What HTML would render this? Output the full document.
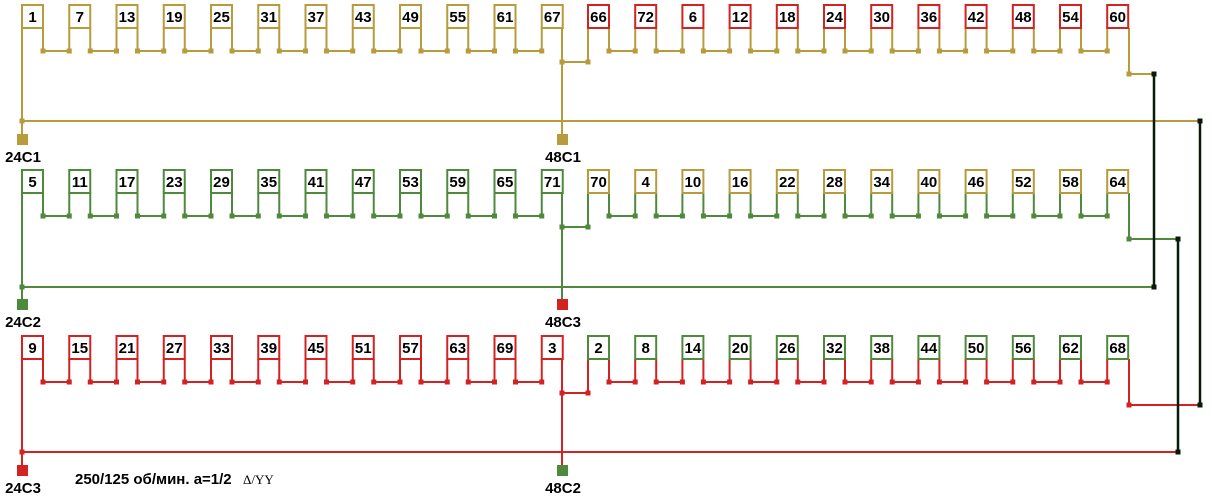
<!DOCTYPE html>
<html><head><meta charset="utf-8"><style>
html,body{margin:0;padding:0;background:#fff;width:1212px;height:502px;overflow:hidden}
svg{display:block}
text{font-family:"Liberation Sans",sans-serif;font-weight:bold;font-size:15px;fill:#000}
</style></head><body>
<svg id="s" width="1212" height="502" viewBox="0 0 1212 502" xmlns="http://www.w3.org/2000/svg">
<g id="g"></g>
<g text-anchor="middle">
<text x="32.5" y="22">1</text><text x="79.75" y="22">7</text><text x="127" y="22">13</text><text x="174.25" y="22">19</text><text x="221.5" y="22">25</text><text x="268.75" y="22">31</text><text x="316" y="22">37</text><text x="363.25" y="22">43</text><text x="410.5" y="22">49</text><text x="457.75" y="22">55</text><text x="505" y="22">61</text><text x="552.25" y="22">67</text>
<text x="598.5" y="22">66</text><text x="645.7" y="22">72</text><text x="692.9" y="22">6</text><text x="740.1" y="22">12</text><text x="787.3" y="22">18</text><text x="834.5" y="22">24</text><text x="881.7" y="22">30</text><text x="928.9" y="22">36</text><text x="976.1" y="22">42</text><text x="1023.3" y="22">48</text><text x="1070.5" y="22">54</text><text x="1117.7" y="22">60</text>
<text x="32.5" y="187">5</text><text x="79.75" y="187">11</text><text x="127" y="187">17</text><text x="174.25" y="187">23</text><text x="221.5" y="187">29</text><text x="268.75" y="187">35</text><text x="316" y="187">41</text><text x="363.25" y="187">47</text><text x="410.5" y="187">53</text><text x="457.75" y="187">59</text><text x="505" y="187">65</text><text x="552.25" y="187">71</text>
<text x="598.5" y="187">70</text><text x="645.7" y="187">4</text><text x="692.9" y="187">10</text><text x="740.1" y="187">16</text><text x="787.3" y="187">22</text><text x="834.5" y="187">28</text><text x="881.7" y="187">34</text><text x="928.9" y="187">40</text><text x="976.1" y="187">46</text><text x="1023.3" y="187">52</text><text x="1070.5" y="187">58</text><text x="1117.7" y="187">64</text>
<text x="32.5" y="353">9</text><text x="79.75" y="353">15</text><text x="127" y="353">21</text><text x="174.25" y="353">27</text><text x="221.5" y="353">33</text><text x="268.75" y="353">39</text><text x="316" y="353">45</text><text x="363.25" y="353">51</text><text x="410.5" y="353">57</text><text x="457.75" y="353">63</text><text x="505" y="353">69</text><text x="552.25" y="353">3</text>
<text x="598.5" y="353">2</text><text x="645.7" y="353">8</text><text x="692.9" y="353">14</text><text x="740.1" y="353">20</text><text x="787.3" y="353">26</text><text x="834.5" y="353">32</text><text x="881.7" y="353">38</text><text x="928.9" y="353">44</text><text x="976.1" y="353">50</text><text x="1023.3" y="353">56</text><text x="1070.5" y="353">62</text><text x="1117.7" y="353">68</text>
<text x="23" y="162">24C1</text><text x="563" y="162">48C1</text>
<text x="23" y="327">24C2</text><text x="563" y="327">48C3</text>
<text x="23" y="493">24C3</text><text x="563" y="493">48C2</text>
</g>
<text x="75" y="484" style="font-size:15px">250/125 об/мин. а=1/2</text>
<text x="243" y="484" style="font-family:'Liberation Serif',serif;font-weight:normal;font-size:13px">Δ/YY</text>
</svg>
<script>
var g=document.getElementById('g'),NS='http://www.w3.org/2000/svg';
function el(t,a){var e=document.createElementNS(NS,t);for(var k in a)e.setAttribute(k,a[k]);g.appendChild(e);return e;}
function ln(x1,y1,x2,y2,c,w){el('line',{x1:x1,y1:y1,x2:x2,y2:y2,stroke:c,'stroke-width':w||2});}
function dot(x,y,c){el('rect',{x:x-2.5,y:y-2.5,width:5,height:5,fill:c});}
var G='#b79b3c',N='#4f8a3c',R='#d32222',K='#0a1a0a';
var L=[];for(var i=0;i<12;i++)L.push(22+47.25*i);for(var j=0;j<12;j++)L.push(588+47.2*j);
var rows=[
 {t:5,wire:G,c1:G,c2:R,bus:121,tc1:G,tc2:G},
 {t:170,wire:N,c1:N,c2:G,bus:287,tc1:N,tc2:R},
 {t:336,wire:R,c1:R,c2:N,bus:452,tc1:R,tc2:N}];
var ends=[[1154,74,1154,287],[1178,239,1178,452],[1200,405,1200,121]];
rows.forEach(function(r,ri){
 var t=r.t,b=t+23,u=t+46,jn=t+57,ex=t+69,w=r.wire;
 for(var k=0;k<24;k++){var x=L[k],xr=x+21;
  if(k!=0) ln(x,b,x,u,w);
  if(k!=11&&k!=23) ln(xr,b,xr,u,w);
 }
 for(var k=0;k<23;k++){if(k==11)continue;ln(L[k]+21,u,L[k+1],u,w);dot(L[k]+21,u,w);dot(L[k+1],u,w);}
 ln(22,b,22,r.bus,w);ln(22,r.bus,22,t+134,w);
 ln(562,b,562,t+134,w);
 ln(562,jn,588,jn,w);ln(588,b,588,jn,w);dot(562,jn,w);dot(588,jn,w);
 var ex2=(ri==0?1154:(ri==1?1178:1200));
 ln(1129,b,1129,ex,w);ln(1129,ex,ex2,ex,w);dot(1129,ex,w);
 var bx=(ri==0?1200:(ri==1?1154:1178));ln(22,r.bus,bx,r.bus,w);dot(22,r.bus,w);
 el('rect',{x:17,y:t+129,width:11,height:11,fill:r.tc1});
 el('rect',{x:557,y:t+129,width:11,height:11,fill:r.tc2});
 for(var k=0;k<24;k++)el('rect',{x:L[k],y:t,width:21,height:23,fill:'#fff',stroke:k<12?r.c1:r.c2,'stroke-width':2});
});
ends.forEach(function(e){ln(e[0],e[1],e[2],e[3],K,2.5);dot(e[0],e[1],K);dot(e[2],e[3],K);});
</script>
</body></html>
